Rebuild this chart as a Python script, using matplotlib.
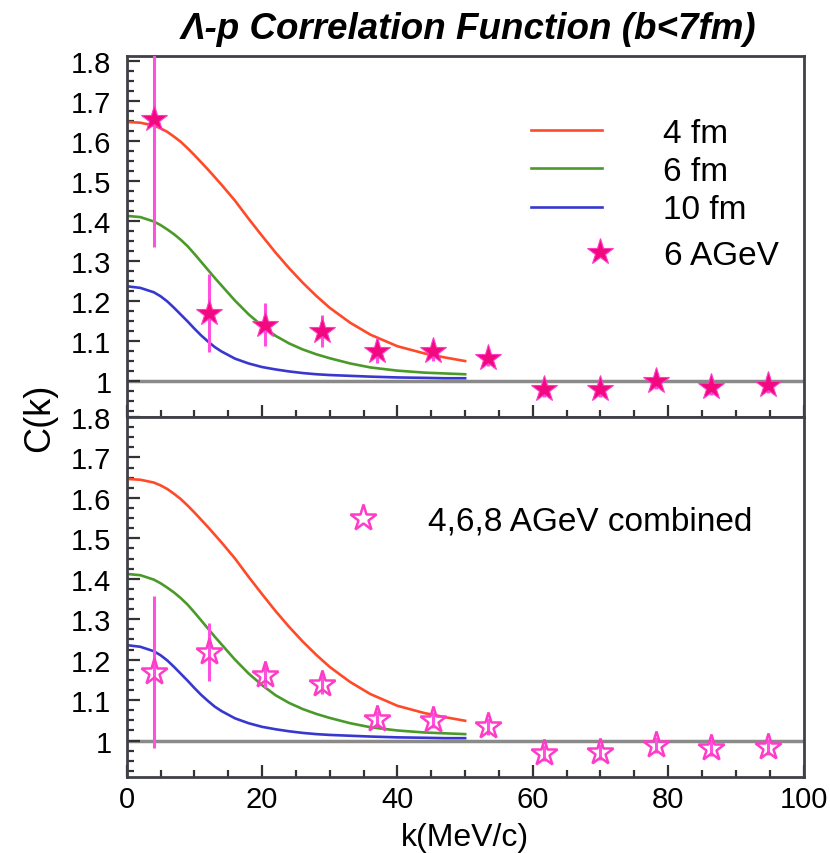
import matplotlib

matplotlib.use("Agg")
import matplotlib.pyplot as plt
from matplotlib.lines import Line2D
from matplotlib.ticker import MultipleLocator, FormatStrFormatter

plt.rcParams["font.family"] = ["Liberation Sans", "DejaVu Sans"]

# theory curves (same in both panels)
k_th = [0, 2, 4, 5, 6, 7, 8, 9, 10, 11, 12, 13, 14, 16, 18, 20, 22, 24, 26, 28, 30,
        33, 36, 40, 44, 47, 50]
c_4fm = [1.647, 1.645, 1.638, 1.631, 1.622, 1.610, 1.597, 1.581, 1.564, 1.546, 1.528,
         1.509, 1.490, 1.450, 1.405, 1.362, 1.320, 1.281, 1.245, 1.212, 1.182,
         1.145, 1.115, 1.086, 1.068, 1.058, 1.049]
c_6fm = [1.412, 1.409, 1.398, 1.389, 1.378, 1.366, 1.352, 1.336, 1.317, 1.297, 1.277,
         1.257, 1.238, 1.200, 1.166, 1.137, 1.112, 1.093, 1.078, 1.066, 1.056,
         1.043, 1.033, 1.025, 1.020, 1.018, 1.016]
c_10fm = [1.236, 1.232, 1.221, 1.211, 1.198, 1.182, 1.165, 1.148, 1.130, 1.113, 1.098,
          1.084, 1.073, 1.055, 1.043, 1.034, 1.028, 1.023, 1.019, 1.016, 1.014,
          1.012, 1.010, 1.008, 1.007, 1.006, 1.006]

# measured points
k_data = [4.0, 12.2, 20.5, 28.8, 37.0, 45.2, 53.4, 61.7, 69.9, 78.2, 86.4, 94.7]
c_6agev = [1.654, 1.169, 1.140, 1.123, 1.074, 1.074, 1.057, 0.979, 0.978, 0.998, 0.984, 0.990]
e_6agev = [0.32, 0.097, 0.054, 0.040, 0.030, 0.025, 0.020, 0.020, 0.020, 0.020, 0.020, 0.020]
c_comb = [1.170, 1.219, 1.161, 1.140, 1.054, 1.050, 1.035, 0.970, 0.971, 0.990, 0.982, 0.984]
e_comb = [0.188, 0.072, 0.030, 0.025, 0.020, 0.020, 0.020, 0.020, 0.020, 0.020, 0.020, 0.020]

C_4 = "#ff4a2a"
C_6 = "#4a9a2a"
C_10 = "#3838d0"
PINK = "#f2087f"
PINK_E = "#ff3cc8"
ERR_C = "#ff50e0"

fig = plt.figure(figsize=(8.3, 8.54), dpi=100)
ax1 = fig.add_axes([0.1527, 0.5105, 0.8154, 0.4233])
ax2 = fig.add_axes([0.1527, 0.0890, 0.8154, 0.4215], sharex=ax1)

for ax in (ax1, ax2):
    ax.axhline(1.0, color="#8a8a8a", lw=2.5, zorder=1)
    ax.plot(k_th, c_4fm, color=C_4, lw=1.9, zorder=2)
    ax.plot(k_th, c_6fm, color=C_6, lw=1.9, zorder=2)
    ax.plot(k_th, c_10fm, color=C_10, lw=1.9, zorder=2)
    ax.set_xlim(0, 100)
    ax.xaxis.set_major_locator(MultipleLocator(20))
    ax.xaxis.set_minor_locator(MultipleLocator(5))
    ax.yaxis.set_major_locator(MultipleLocator(0.1))
    ax.yaxis.set_minor_locator(MultipleLocator(0.025))
    ax.yaxis.set_major_formatter(FormatStrFormatter("%g"))
    ax.tick_params(which="both", direction="in", top=False, right=False,
                   width=1.6, color="#333333", labelsize=21, pad=11)
    ax.tick_params(which="major", length=9)
    ax.tick_params(which="minor", length=5)
    ax.tick_params(axis="x", pad=6)
    for s in ax.spines.values():
        s.set_linewidth(2.0)
        s.set_color("#404048")

ax1.set_ylim(0.909, 1.813)
ax2.set_ylim(0.91, 1.80)
ax1.tick_params(axis="x", labelbottom=False)

ax1.errorbar(k_data, c_6agev, yerr=e_6agev, fmt="none", ecolor=ERR_C, elinewidth=2.2,
             capsize=0, zorder=3)
ax1.plot(k_data, c_6agev, ls="none", marker="*", ms=20, mfc=PINK, mec=PINK_E, mew=0.8,
         zorder=4)
ax2.errorbar(k_data, c_comb, yerr=e_comb, fmt="none", ecolor=ERR_C, elinewidth=2.2,
             capsize=0, zorder=3)
ax2.plot(k_data, c_comb, ls="none", marker="*", ms=20, mfc="none", mec=PINK_E, mew=1.8,
         zorder=4)

# legends
lines = [Line2D([], [], color=c, lw=1.9) for c in (C_4, C_6, C_10)]
leg1 = ax1.legend(lines, ["4 fm", "6 fm", "10 fm"], loc="upper left",
                  bbox_to_anchor=(0.597, 0.828), frameon=False, fontsize=24,
                  handlelength=2.13, handletextpad=1.83, labelspacing=0.22,
                  borderpad=0, borderaxespad=0)
ax1.add_artist(leg1)
star_f = Line2D([], [], ls="none", marker="*", ms=20, mfc=PINK, mec=PINK_E, mew=0.8)
ax1.legend([star_f], ["6 AGeV"], loc="upper left", bbox_to_anchor=(0.675, 0.49),
           frameon=False, fontsize=24, handlelength=1.0, handletextpad=1.4,
           borderpad=0, borderaxespad=0)
star_o = Line2D([], [], ls="none", marker="*", ms=20, mfc="none", mec=PINK_E, mew=1.8)
ax2.legend([star_o], ["4,6,8 AGeV combined"], loc="upper left",
           bbox_to_anchor=(0.325, 0.753), frameon=False, fontsize=24,
           handlelength=1.0, handletextpad=1.43, borderpad=0, borderaxespad=0)

ax2.set_xlabel("k(MeV/c)", fontsize=23, labelpad=6)
fig.text(40 / 830, 1 - 418 / 854, "C(k)", rotation=90, fontsize=26,
         ha="center", va="center")
fig.text(0.564, 0.965, "Λ-p Correlation Function (b<7fm)", fontsize=26.5,
         fontweight="bold", fontstyle="italic", ha="center", va="center")

fig.savefig("out.png", dpi=100)
